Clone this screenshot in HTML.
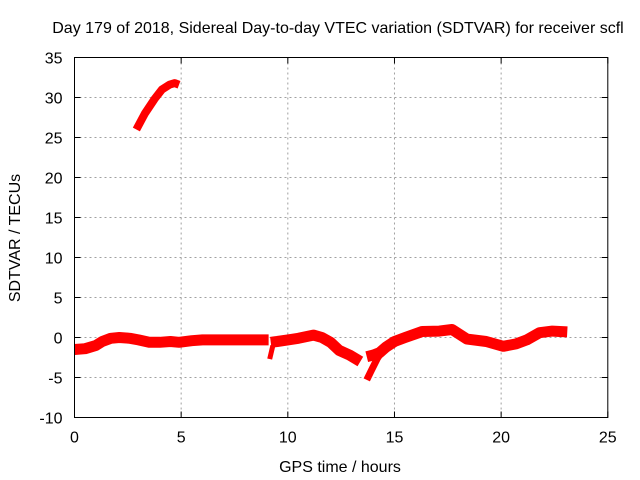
<!DOCTYPE html>
<html><head><meta charset="utf-8"><style>
body{margin:0;background:#fff}
svg{display:block;font-family:"Liberation Sans",sans-serif;font-size:16px}
</style></head><body>
<svg id="chart" width="640" height="480">
<text x="338" y="33" text-anchor="middle" fill="#000">Day 179 of 2018, Sidereal Day-to-day VTEC variation (SDTVAR) for receiver scfl</text>
<text x="340" y="472" text-anchor="middle">GPS time / hours</text>
<text transform="translate(20,238) rotate(-90)" text-anchor="middle">SDTVAR / TECUs</text>
<g id="grid"></g><g id="series"></g><g id="axes"></g>
</svg>
<script>
const xTicks=[0,5,10,15,20,25];
const yTicks=[-10,-5,0,5,10,15,20,25,30,35];
const seg1Hours=[2.9,3.3,3.75,4.1,4.45,4.7,4.9];
const seg1Vals=[26,28,29.8,31,31.6,31.8,31.6];
const seg2Hours=[0,0.5,1.0,1.3,1.7,2.1,2.6,3.0,3.5,4.0,4.5,4.9,5.5,6.0,7.0,7.9,8.5,9.1];
const seg2Vals=[-1.5,-1.4,-1.0,-0.5,-0.1,0,-0.1,-0.3,-0.6,-0.6,-0.5,-0.6,-0.4,-0.3,-0.3,-0.3,-0.3,-0.3];
const seg3Hours=[9.2,9.5,10,10.5,11.2,11.6,12.0,12.4,12.9,13.4];
const seg3Vals=[-0.6,-0.5,-0.3,-0.1,0.3,0,-0.6,-1.6,-2.2,-3.0];
const seg4Hours=[13.7,14.0,14.3,14.6,15.0,15.5,16.3,17.1,17.7,18.4,19.3,20.1,20.7,21.2,21.8,22.4,23.1];
const seg4Vals=[-2.4,-2.2,-1.9,-1.2,-0.5,0,0.75,0.8,1.0,-0.2,-0.5,-1.1,-0.8,-0.3,0.6,0.8,0.7];
const seg5Hours=[13.7,13.9,14.2,14.6];
const seg5Vals=[-5.3,-4.2,-2.6,-1.0];
const seg6Hours=[9.15,9.3];
const seg6Vals=[-2.7,-1.0];
const X0=74.5,X1=607.8,Y0=417.5,Y1=57.5;
const sx=v=>X0+(v-0)/(25-0)*(X1-X0);
const sy=v=>Y0-(v+10)/45*(Y0-Y1);
const NS="http://www.w3.org/2000/svg";
const grid=document.getElementById('grid'),axes=document.getElementById('axes'),ser=document.getElementById('series');
function mk(t,a,p){const e=document.createElementNS(NS,t);for(const k in a)e.setAttribute(k,a[k]);p.appendChild(e);return e;}
xTicks.forEach((t,i)=>{const x=sx(t);
 if(i>0&&i<xTicks.length-1){const g=mk('line',{x1:x,x2:x,y1:Y1,y2:Y0,stroke:'#a0a0a0','stroke-dasharray':'2,3'},grid);
 
 }
 mk('line',{x1:x,x2:x,y1:Y0,y2:Y0-6,stroke:'#000'},axes);mk('line',{x1:x,x2:x,y1:Y1,y2:Y1+6,stroke:'#000'},axes);
 const l=mk('text',{x:x,y:Y0+25,'text-anchor':'middle'},axes);l.textContent=t;
 
 });
yTicks.forEach((t,i)=>{const y=sy(t);
 if(i>0&&i<yTicks.length-1){const g=mk('line',{x1:X0,x2:X1,y1:y,y2:y,stroke:'#a0a0a0','stroke-dasharray':'2,3'},grid);
 
 }
 mk('line',{x1:X0,x2:X0+6,y1:y,y2:y,stroke:'#000'},axes);mk('line',{x1:X1,x2:X1-6,y1:y,y2:y,stroke:'#000'},axes);
 const l=mk('text',{x:X0-12,y:y+6,'text-anchor':'end'},axes);l.textContent=t;
 
 });
const fr=mk('rect',{x:X0,y:Y1,width:X1-X0,height:Y0-Y1,fill:'none',stroke:'#000'},axes);


[[seg1Hours,seg1Vals,8],[seg2Hours,seg2Vals,11],[seg3Hours,seg3Vals,11],[seg4Hours,seg4Vals,11],[seg5Hours,seg5Vals,7],[seg6Hours,seg6Vals,5]].forEach(([h,v,w])=>{
 const pts=h.map((t,i)=>sx(t)+','+sy(v[i])).join(' ');
 const p=mk('polyline',{points:pts,fill:'none',stroke:'#ff0000','stroke-width':w,'stroke-linejoin':'round','stroke-linecap':'butt'},ser);
 
 });
</script>
</body></html>
